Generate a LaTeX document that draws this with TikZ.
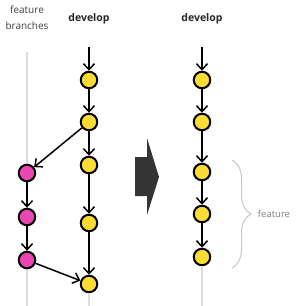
\documentclass[tikz,border=0pt]{standalone}
\usepackage{fontspec}
\setmainfont{Open Sans}
\usetikzlibrary{arrows.meta,positioning,decorations.pathreplacing}
\definecolor{commityellow}{RGB}{250,220,52}
\definecolor{featpink}{RGB}{236,70,178}
\definecolor{trackgray}{RGB}{220,220,220}
\definecolor{bigdark}{RGB}{52,52,52}
\definecolor{labelgray}{RGB}{128,128,128}

\begin{document}
\begin{tikzpicture}[x=1pt,y=1pt,on grid,>={Straight Barb[length=6pt,width=11pt]},
  commit/.style={circle,draw=black,line width=2pt,fill=commityellow,minimum size=16.5pt,inner sep=0pt},
  fcommit/.style={commit,fill=featpink},
  track/.style={trackgray,line width=2.5pt},
  flow/.style={->,line width=1.5pt},
  collabel/.style={font=\fontsize{10.5}{15}\selectfont\bfseries,text=black!85}]
\useasboundingbox (0,0) rectangle (296,-306);
% feature branch track
\coordinate (ftop) at (27,-52);
\coordinate (fbot) at (27,-306);
\draw[track] (ftop) -- (fbot);
% left: before merge
\node[font=\fontsize{10}{16}\selectfont,text=black!75,align=center] (flabel) at (27,-18) {feature\\branches};
\node[collabel] (dlabel) at (89,-19) {develop};
\coordinate (dtop) at (89,-47);
\coordinate (dbot) at (89,-306);
\node[commit] (d1) at (89,-80) {};
\node[commit,below=42pt of d1] (d2) {};
\node[commit,below=43pt of d2] (d3) {};
\node[commit,below=58pt of d3] (d4) {};
\node[commit,below=61pt of d4] (d5) {};
\node[fcommit] (f1) at (27,-173) {};
\node[fcommit,below=44pt of f1] (f2) {};
\node[fcommit,below=43pt of f2] (f3) {};
\draw[track] (d5) -- (dbot);
\draw[flow] (dtop) -- (d1);
\draw[flow] (d1) -- (d2);
\draw[flow] (d2) -- (d3);
\draw[flow] (d3) -- (d4);
\draw[flow] (d4) -- (d5);
\draw[flow] (d2) -- (f1);
\draw[flow] (f1) -- (f2);
\draw[flow] (f2) -- (f3);
\draw[flow] (f3) -- (d5);
% big arrow
\fill[bigdark] (135,-157) -- (147,-157) -- (147,-138) -- (159,-177) -- (147,-215) -- (147,-196) -- (135,-196) -- cycle;
% right: after merge
\node[collabel] (rlabel) at (202,-19) {develop};
\coordinate (rtop) at (202,-47);
\coordinate (rbot) at (202,-306);
\node[commit] (r1) at (202,-80) {};
\node[commit,below=42pt of r1] (r2) {};
\node[commit,below=50pt of r2] (r3) {};
\node[commit,below=42pt of r3] (r4) {};
\node[commit,below=43pt of r4] (r5) {};
\draw[track] (r5) -- (rbot);
\draw[flow] (rtop) -- (r1);
\draw[flow] (r1) -- (r2);
\draw[flow] (r2) -- (r3);
\draw[flow] (r3) -- (r4);
\draw[flow] (r4) -- (r5);
% brace
\coordinate (btop) at (232,-160);
\coordinate (bbot) at (232,-268);
\draw[black!22,line width=1pt,decorate,decoration={brace,amplitude=19pt,aspect=0.5}] (btop) -- (bbot);
\node[font=\fontsize{9.5}{11}\selectfont,text=labelgray] (blabel) at (274,-214) {feature};
\end{tikzpicture}
\end{document}
